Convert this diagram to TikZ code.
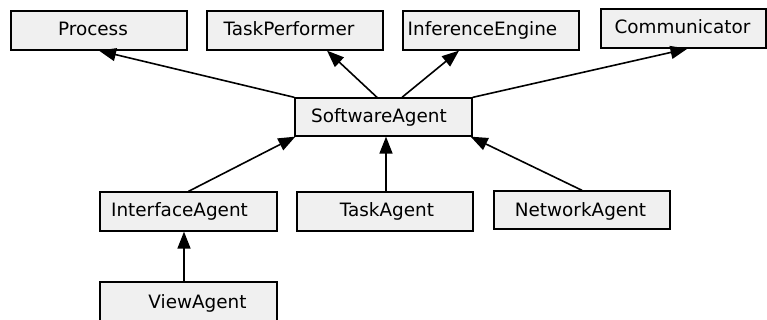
\documentclass[tikz,border=0pt]{standalone}
\usepackage{fontspec}
\setmainfont{DejaVu Sans}
\usetikzlibrary{arrows.meta,calc,shadows}
\definecolor{boxfill}{RGB}{240,240,240}
\begin{document}
\begin{tikzpicture}[x=1pt,y=-1pt,
  cls/.style={draw=black,line width=1.3pt,fill=boxfill,rectangle,inner sep=0pt,
    general shadow={fill=black,shadow xshift=1pt,shadow yshift=-1pt}},
  lbl/.style={anchor=base,inner sep=0pt,font=\fontsize{18.4}{22}\selectfont},
  inh/.style={line width=1.6pt,-{Triangle[length=17pt,width=13pt]}}]
\useasboundingbox (0,0) rectangle (767,320);
% boxes
\node[cls,minimum width=176pt,minimum height=39pt] (process) at (99,30.5) {};
\node[cls,minimum width=176pt,minimum height=39pt] (taskperf) at (295,30.5) {};
\node[cls,minimum width=176pt,minimum height=39pt] (infeng) at (491,30.5) {};
\node[cls,minimum width=165pt,minimum height=39pt] (comm) at (683.5,28.5) {};
\node[cls,minimum width=177pt,minimum height=38pt] (sa) at (383.5,117) {};
\node[cls,minimum width=177pt,minimum height=39pt] (ia) at (188.5,211.5) {};
\node[cls,minimum width=176pt,minimum height=39pt] (ta) at (385,211.5) {};
\node[cls,minimum width=176pt,minimum height=38pt] (na) at (582,210) {};
\node[cls,minimum width=177pt,minimum height=40pt] (va) at (188.5,302) {};
% labels
\node[lbl] (tprocess) at (93,36) {Process};
\node[lbl] (ttaskperf) at (289,36) {TaskPerformer};
\node[lbl] (tinfeng) at (482.5,36) {InferenceEngine};
\node[lbl] (tcomm) at (682.5,34) {Communicator};
\node[lbl] (tsa) at (379,123) {SoftwareAgent};
\node[lbl] (tia) at (179.5,217) {InterfaceAgent};
\node[lbl] (tta) at (387,217) {TaskAgent};
\node[lbl] (tna) at (580.5,216) {NetworkAgent};
\node[lbl] (tva) at (197.5,308) {ViewAgent};
% connectors
\draw[inh] (sa.north west) -- (process.south);
\draw[inh] ([xshift=-6.5pt]sa.north) -- ([xshift=32pt]taskperf.south);
\draw[inh] ([xshift=18.5pt]sa.north) -- ([xshift=-32pt]infeng.south);
\draw[inh] (sa.north east) -- ([xshift=4pt]comm.south);
\draw[inh] (ia.north) -- ([xshift=1pt]sa.south west);
\draw[inh] ([xshift=1pt]ta.north) -- ([xshift=1pt]ta.north |- sa.south);
\draw[inh] (na.north) -- ([xshift=-2pt]sa.south east);
\draw[inh] ([xshift=-4.5pt]va.north) -- ([xshift=-4.5pt]ia.south);
\end{tikzpicture}
\end{document}
